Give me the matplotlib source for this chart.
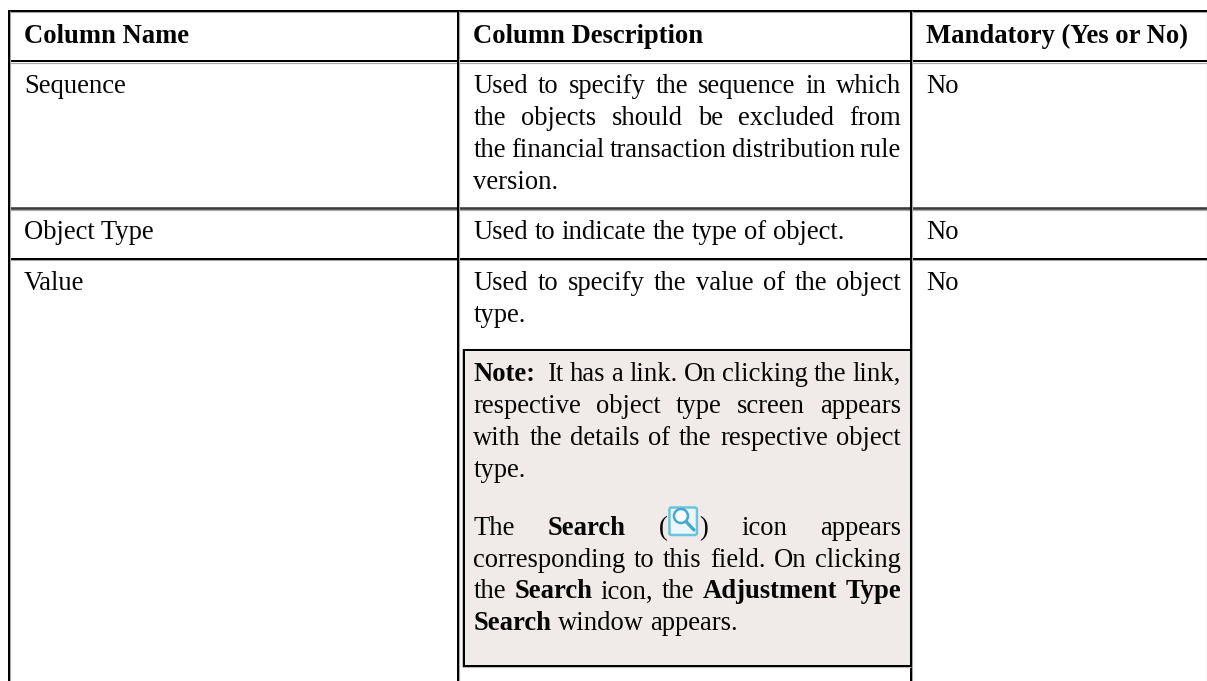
import matplotlib
matplotlib.use("Agg")
import matplotlib.pyplot as plt
from matplotlib.patches import Rectangle, FancyBboxPatch, Circle

FONT = "Liberation Serif"
SIZE_PX = 26.6
W, H = 1207, 681

# table grid, in image pixels
col_edges = [8.8, 458, 911, 1206.5]
row_edges = [11, 61.3, 208.3, 258.7]
note_box = [463.5, 350, 911, 665.7]

headers = ["Column Name", "Column Description", "Mandatory (Yes or No)"]
names = ["Sequence", "Object Type", "Value"]
mandatory = ["No", "No", "No"]
name_baselines = [92.7, 239.3, 290]

# (baseline, justified, words) - a word is text or (text, bold)
B = True
desc_lines = [
    (92.7, True, "Used to specify the sequence in which".split()),
    (125, True, "the objects should be excluded from".split()),
    (157, True, "the financial transaction distribution rule".split()),
    (189, False, ["version."]),
    (239.3, False, "Used to indicate the type of object.".split()),
    (290, True, "Used to specify the value of the object".split()),
    (322, False, ["type."]),
    (381, True, [("Note:", B), "", "It", "has", "a", "link.", "On", "clicking", "the", "link,"]),
    (413, True, "respective object type screen appears".split()),
    (445, True, "with the details of the respective object".split()),
    (477, False, ["type."]),
    (535, True, ["The", ("Search", B), "ICON", "icon", "appears"]),
    (567, True, "corresponding to this field. On clicking".split()),
    (598.5, True, ["the", ("Search", B), "icon,", "the", ("Adjustment", B), ("Type", B)]),
    (630, False, [("Search", B), "window", "appears."]),
]

fig = plt.figure(figsize=(W / 100, H / 100), dpi=100)
ax = fig.add_axes([0, 0, 1, 1])
ax.set_xlim(0, W)
ax.set_ylim(H, 0)
ax.axis("off")
renderer = fig.canvas.get_renderer()


def put(x, y, s, bold=False):
    return ax.text(x, y, s, family=FONT, fontsize=SIZE_PX * 0.72, color="#050505",
                   weight="bold" if bold else "normal", va="baseline", ha="left", zorder=5)


def rule(x0, y0, x1, y1, color="#000000", px=2.0):
    ax.plot([x0, x1], [y0, y1], color=color, lw=px * 0.72, solid_capstyle="butt", zorder=3)


def draw_icon(x, base):
    ax.add_patch(FancyBboxPatch((x + 0.5, base - 27.5), 27.5, 27.5, boxstyle="round,pad=0,rounding_size=2",
                                fc="#edf7fb", ec="#6cc3df", lw=1.8, zorder=6))
    ax.add_patch(Circle((x + 12, base - 19), 7, fc="#fbfdfe", ec="#45a9cf", lw=1.8, zorder=7))
    ax.plot([x + 17, x + 25], [base - 13.5, base - 5], color="#45a9cf", lw=2.4,
            solid_capstyle="round", zorder=7)


def draw_line(x0, x1, base, justified, words):
    items = []
    for w in words:
        s, bold = w if isinstance(w, tuple) else (w, False)
        if s == "ICON":
            # bracket pair with the search icon between them
            left = put(0, base, "(")
            right = put(0, base, ")")
            lw = left.get_window_extent(renderer).width
            rw = right.get_window_extent(renderer).width
            items.append(("icon", (left, right, lw, rw), lw + rw + 32))
        elif s == "":
            items.append(("gap", None, 0))
        else:
            t = put(0, base, s, bold)
            items.append(("text", t, t.get_window_extent(renderer).width))
    used = sum(i[2] for i in items)
    gap = (x1 - x0 - used) / (len(items) - 1) if justified and len(items) > 1 else 6.6
    x = x0
    for kind, obj, width in items:
        if kind == "text":
            obj.set_x(x)
        elif kind == "icon":
            left, right, lw, rw = obj
            left.set_x(x)
            draw_icon(x + lw + 1.5, base)
            right.set_x(x + lw + 32)
        x += width + gap


# note background goes under everything
ax.add_patch(Rectangle((note_box[0], note_box[1]), note_box[2] - note_box[0], note_box[3] - note_box[1],
                       fc="#f0ebe9", ec="none", zorder=1))

# grid lines, horizontals first so the verticals stay unbroken
for i, y in enumerate(row_edges):
    rule(col_edges[0] - 1, y + 1.3, col_edges[3], y + 1.3, "#a8a8a8", 1.2)
    rule(col_edges[0] - 1, y, col_edges[3], y, "#3a3a3a" if i == 2 else "#000000", 2.6 if i == 2 else 2)
for x in col_edges[:3]:
    rule(x + 1.3, row_edges[0], x + 1.3, H, "#a8a8a8", 1.2)
    rule(x, row_edges[0] - 1, x, H, "#000000", 2)
rule(col_edges[3], row_edges[0], col_edges[3], H, "#a0a0a0", 1.2)

# note border
nx0, ny0, nx1, ny1 = note_box
rule(nx0 - 1.6, ny0 - 1.3, nx1, ny0 - 1.3, "#bcbcbc", 1.2)
rule(nx0 - 1.6, ny0 - 1.3, nx0 - 1.6, ny1 + 1.3, "#bcbcbc", 1.2)
rule(nx0 - 1.6, ny1 + 1.3, nx1, ny1 + 1.3, "#bcbcbc", 1.2)
for a, b, c, d in [(nx0 - 1, ny0, nx1 + 1, ny0), (nx0 - 1, ny1, nx1 + 1, ny1), (nx0, ny0, nx0, ny1), (nx1, ny0, nx1, ny1)]:
    rule(a, b, c, d, "#000000", 2)

# header and plain columns
put(24, 42.7, headers[0], True)
put(473.4, 42.7, headers[1], True)
put(926, 42.7, headers[2], True)
for name, flag, y in zip(names, mandatory, name_baselines):
    put(24, y, name)
    put(926, y, flag)

for base, justified, words in desc_lines:
    draw_line(473.4, 901, base, justified, words)

fig.savefig("out.png", dpi=100, facecolor="white")
